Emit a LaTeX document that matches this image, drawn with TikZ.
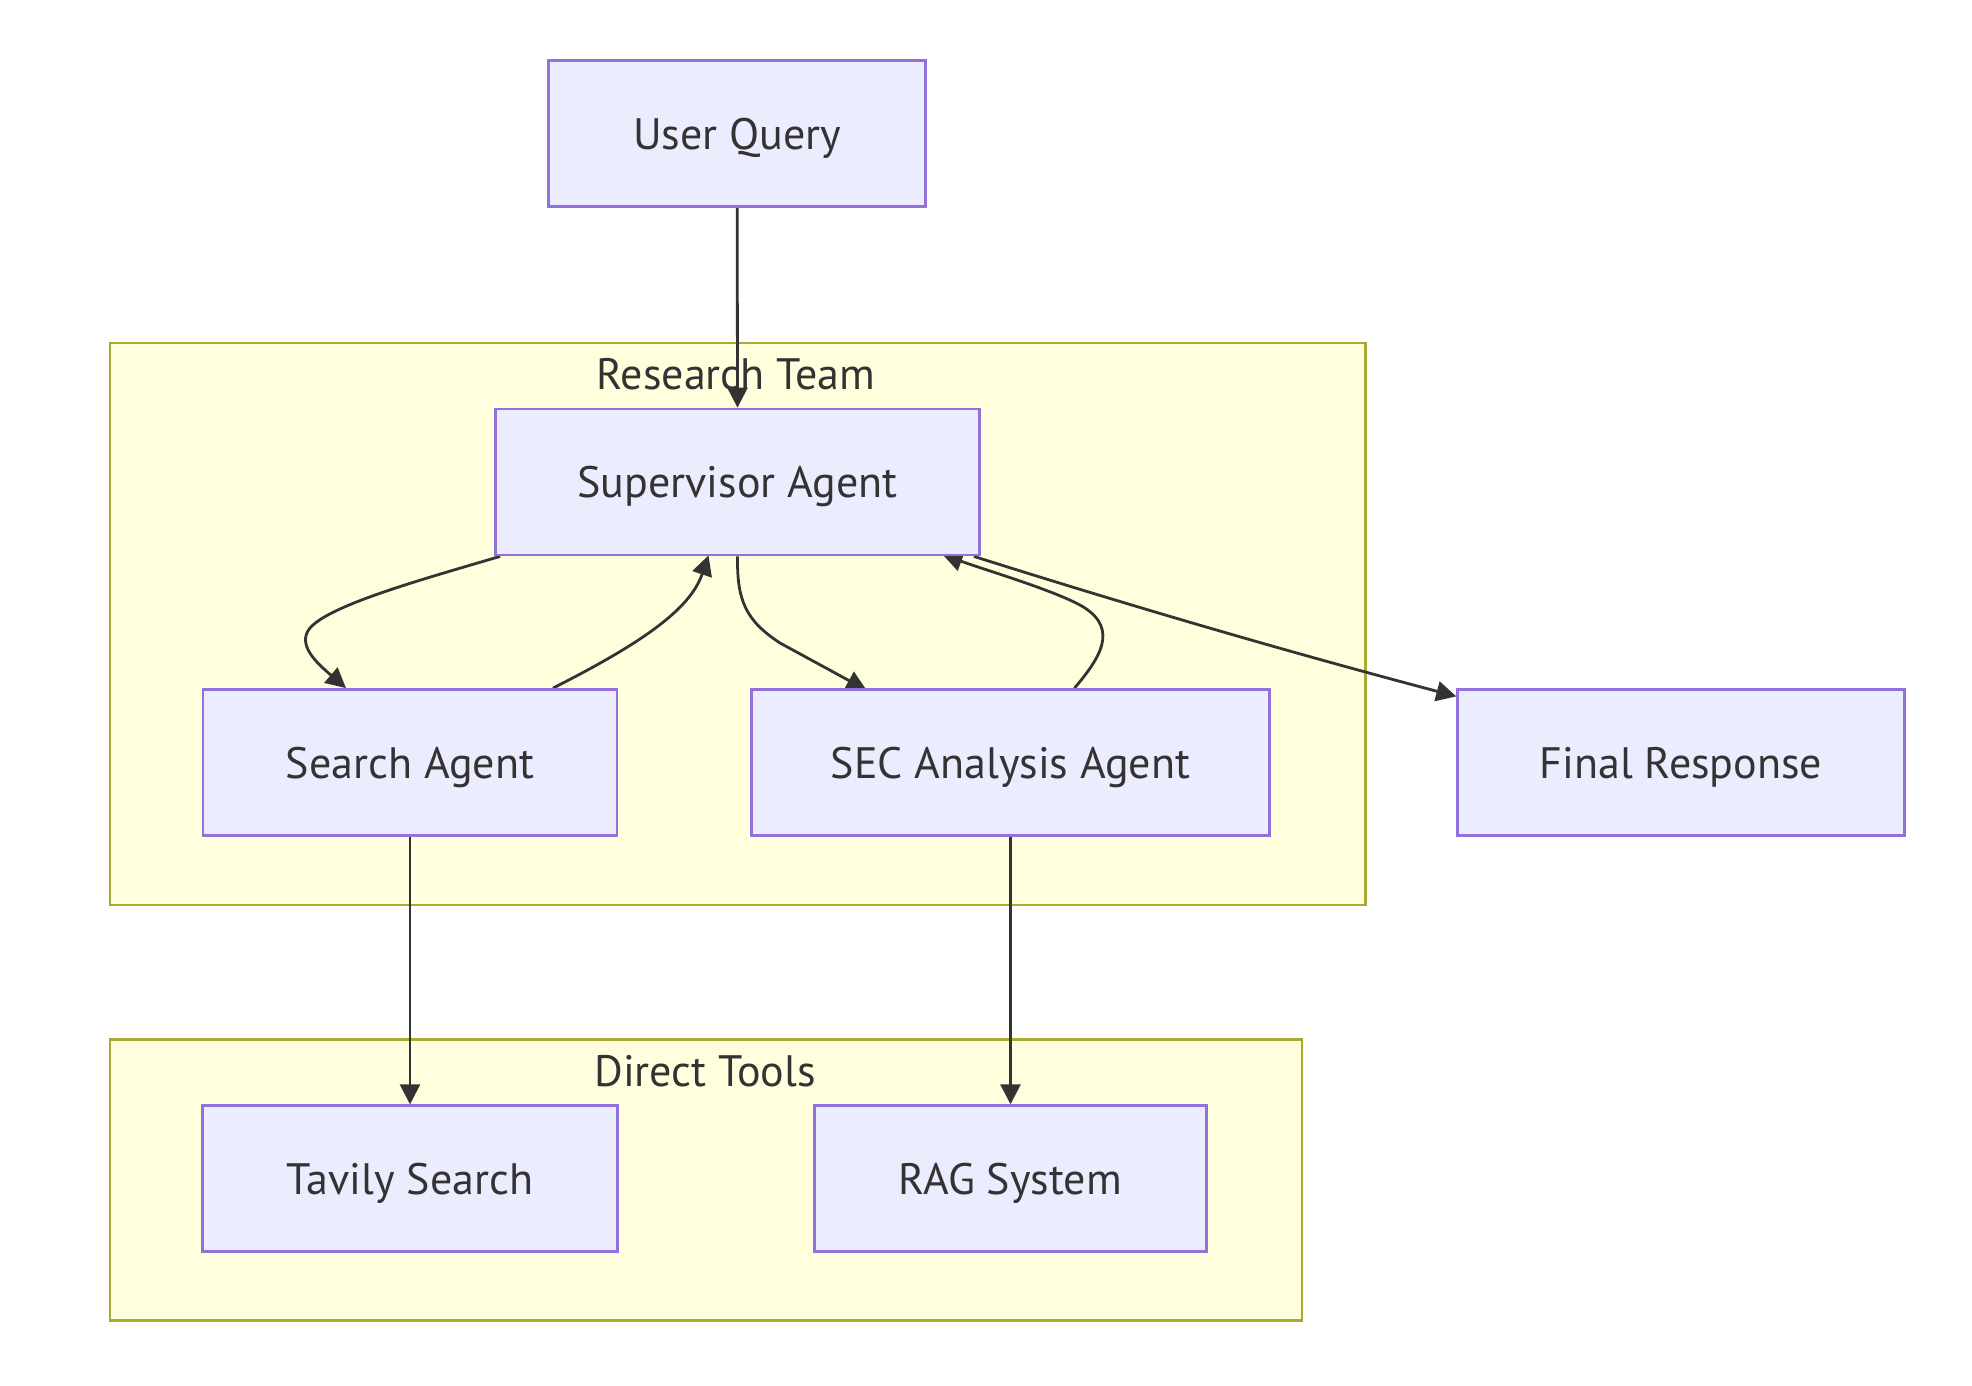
\documentclass[tikz,border=0pt]{standalone}
\usepackage{fontspec}
\setmainfont{PT Sans}
\usetikzlibrary{arrows.meta}
\definecolor{nodefill}{HTML}{ECECFF}
\definecolor{nodestroke}{HTML}{9370DB}
\definecolor{clfill}{HTML}{FFFFDE}
\definecolor{clstroke}{HTML}{AAAA33}
\definecolor{txt}{HTML}{333333}
\definecolor{edgec}{HTML}{333333}
\pgfdeclarelayer{bg}
\pgfdeclarelayer{edges}
\pgfsetlayers{bg,edges,main}
\begin{document}
\begin{tikzpicture}[x=0.5pt,y=-0.5pt,
  lbl/.style={text=txt, font=\fontsize{22}{26}\selectfont, inner sep=0pt, text height=15.5pt, text depth=0pt},
  box/.style={lbl, draw=nodestroke, fill=nodefill, line width=1.4pt, minimum height=73pt},
  cluster/.style={draw=clstroke, fill=clfill, line width=1.3pt, inner sep=0pt, anchor=north west},
  edge/.style={draw=edgec, line width=1.4pt, -{Triangle[length=10pt,width=10pt]}}]
\useasboundingbox (0,0) rectangle (1972,1386);
\begin{pgfonlayer}{bg}
\fill[white] (0,0) rectangle (1972,1386);
% clusters
\node[cluster, minimum width=627.75pt, minimum height=281pt] (rt) at (108.5,341.5) {};
\node[cluster, minimum width=596pt, minimum height=140.5pt] (dt) at (108.5,1038) {};
\node[lbl] (rtl) at (736,373.5) {Research Team};
\node[lbl] (dtl) at (705,1070.5) {Direct Tools};
\end{pgfonlayer}
% nodes
\node[box, minimum width=188.5pt] (uq) at (737.2,133.7) {User Query};
\node[box, minimum width=242pt] (sup) at (737.5,482) {Supervisor Agent};
\node[box, minimum width=207pt] (sa) at (410,762.5) {Search Agent};
\node[box, minimum width=259pt] (sec) at (1010.5,762.5) {SEC Analysis Agent};
\node[box, minimum width=223.3pt] (fr) at (1681,762.8) {Final Response};
\node[box, minimum width=207.3pt] (tav) at (410,1178.7) {Tavily Search};
\node[box, minimum width=196pt] (rag) at (1010.2,1178.7) {RAG System};
% edges
\begin{pgfonlayer}{edges}
\draw[edge] (uq.south) -- (sup.north);
\draw[edge] ([xshift=3pt]sup.south west) .. controls (420,580) and (330,605) .. (310,628)
  .. controls (296,645) and (318,664) .. ([xshift=-32pt]sa.north);
\draw[edge] ([xshift=71.5pt]sa.north) .. controls (640,644) and (690,610) .. ([xshift=-14.5pt,yshift=0.5pt]sup.south);
\draw[edge] (sup.south) .. controls (737,600) and (745,620) .. (780,643) -- ([xshift=-72pt,yshift=-1pt]sec.north);
\draw[edge] ([xshift=32pt]sec.north) .. controls (1100,658) and (1118,630) .. (1085,608)
  .. controls (1060,592) and (985,570) .. ([xshift=102.5pt,yshift=1pt]sup.south);
\draw[edge] ([xshift=-3.5pt]sup.south east) .. controls (1150,612) and (1300,655) .. ([yshift=-4pt]fr.north west);
\draw[edge] (sa.south) -- (tav.north);
\draw[edge] (sec.south) -- (sec.south |- rag.north);
\end{pgfonlayer}
\end{tikzpicture}
\end{document}
